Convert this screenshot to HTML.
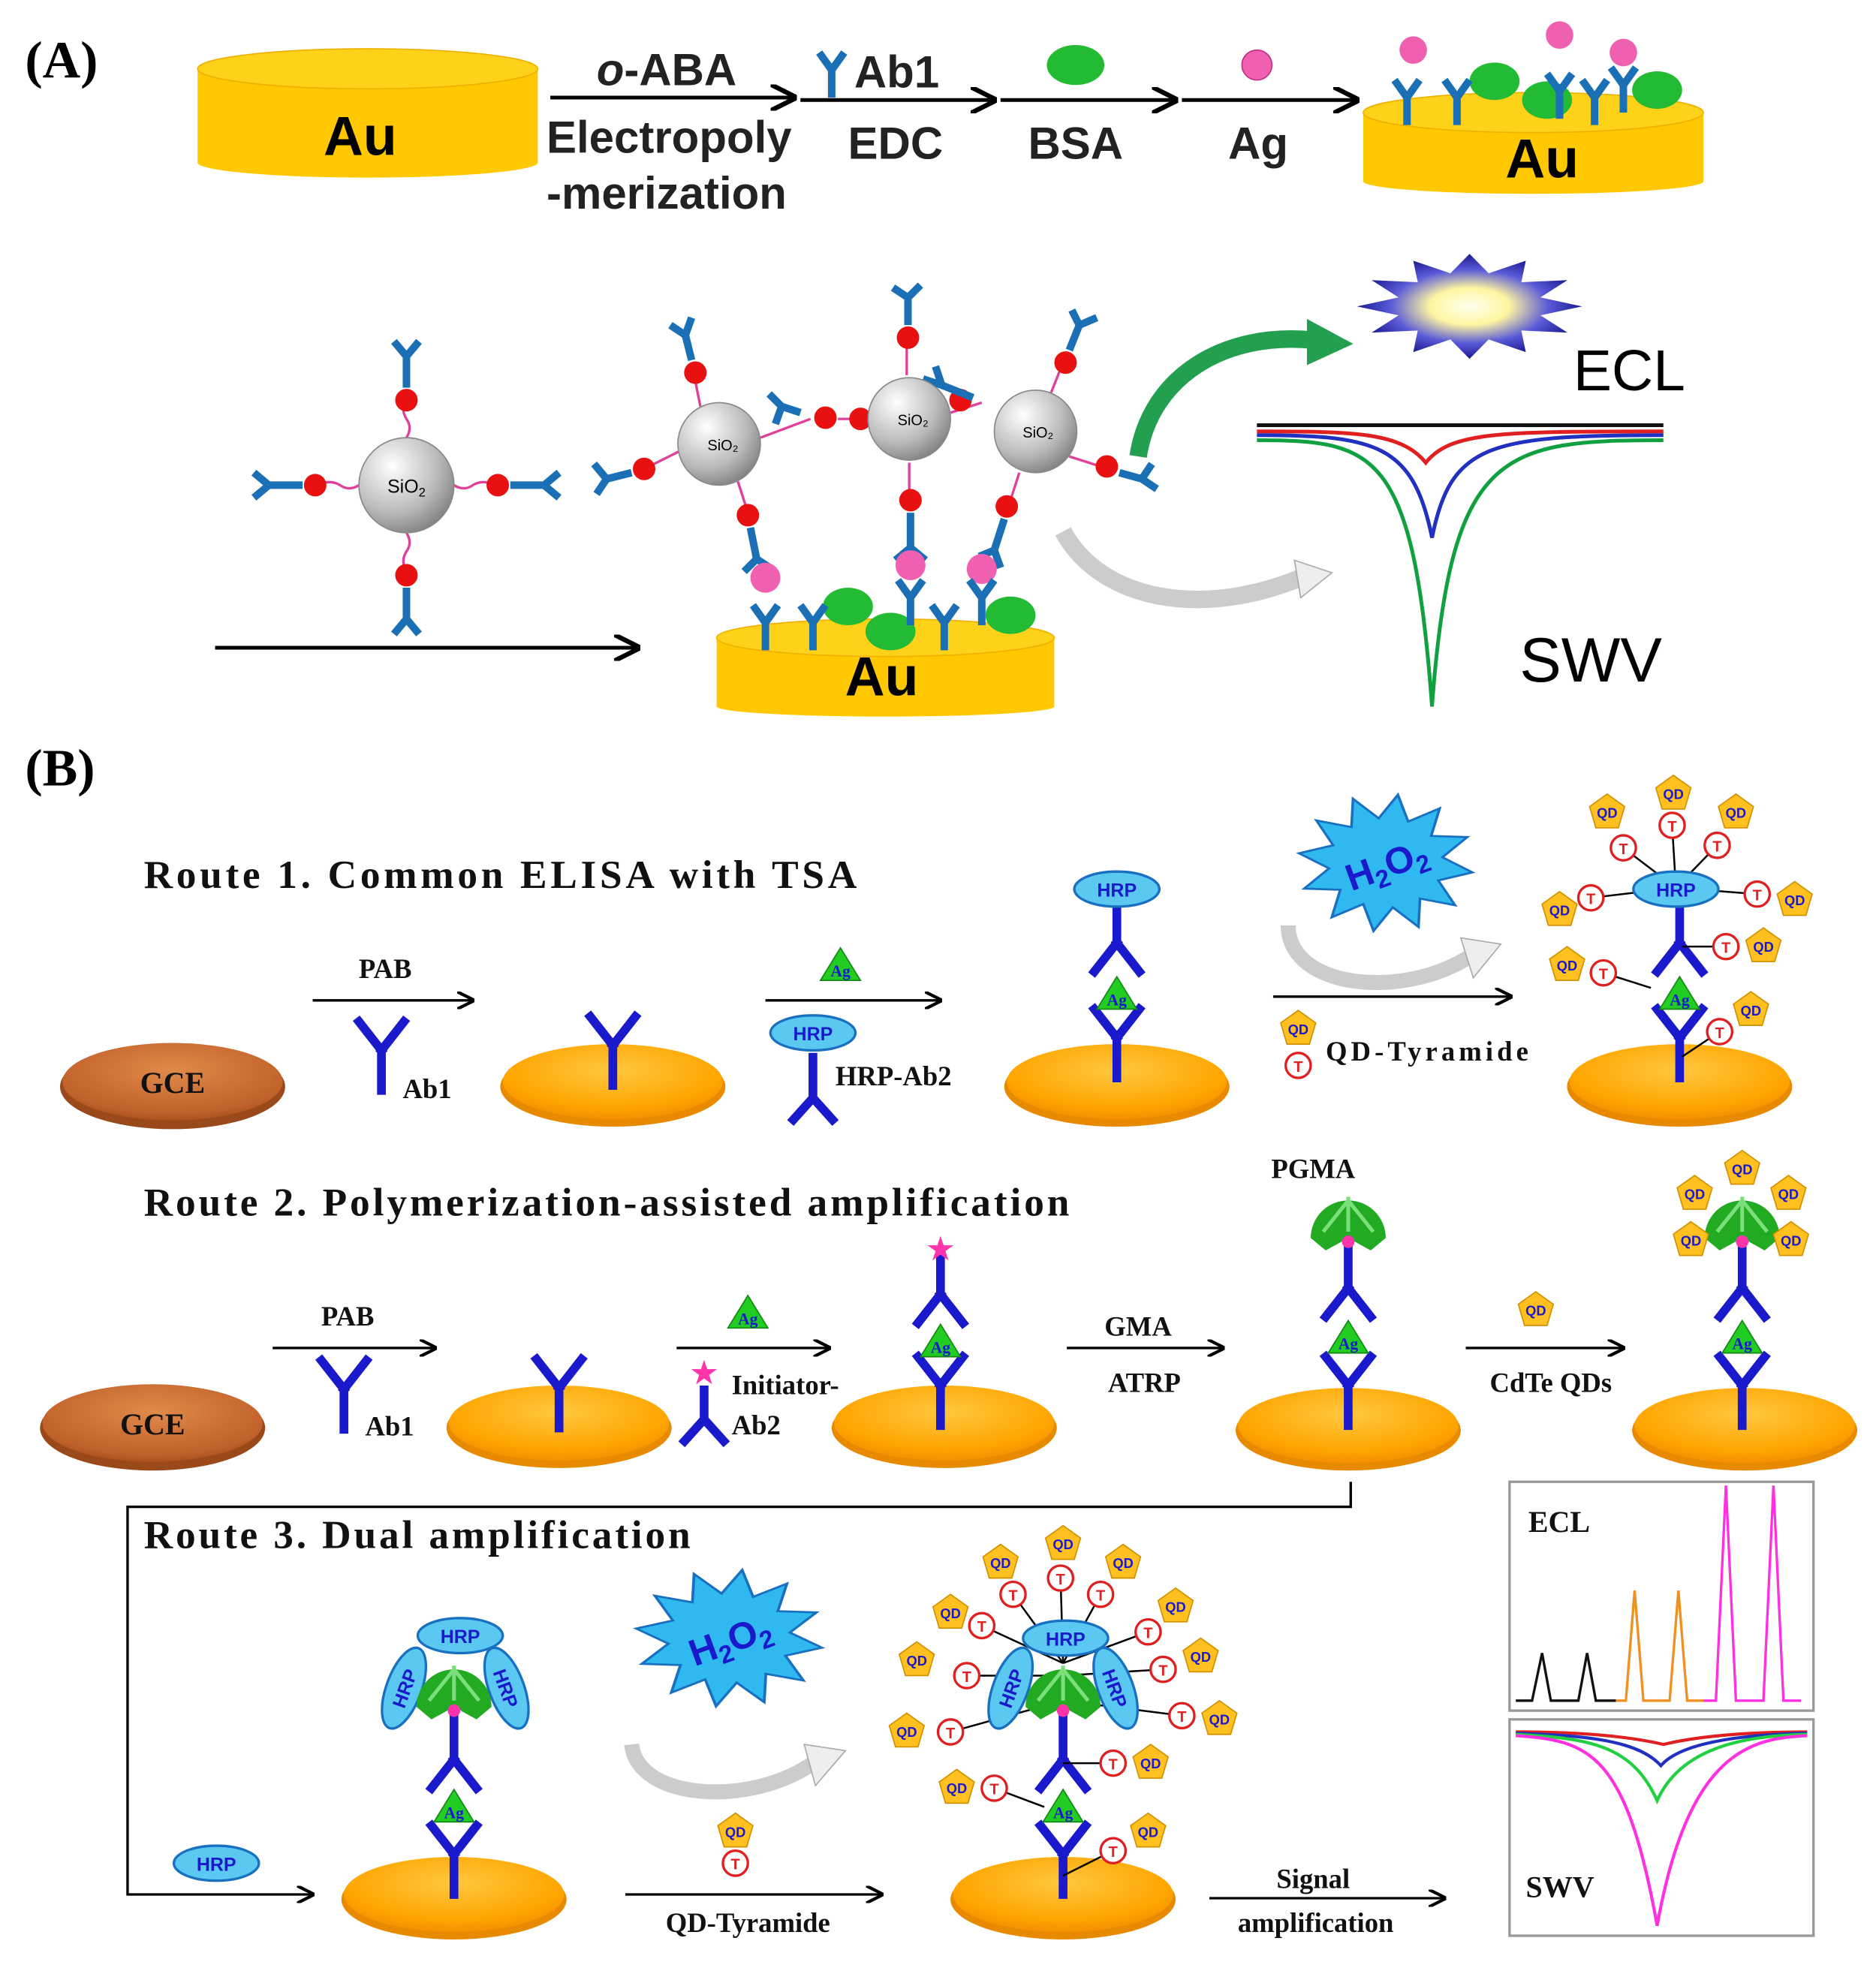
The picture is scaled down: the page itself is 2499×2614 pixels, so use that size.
<!DOCTYPE html>
<html><head><meta charset="utf-8"><style>html,body{margin:0;padding:0;background:#fff}svg{display:block}</style></head><body>
<svg width="2499" height="2614" viewBox="0 0 1500 1569" xmlns="http://www.w3.org/2000/svg">
<defs>
<radialGradient id="sio" cx="0.35" cy="0.3" r="0.8"><stop offset="0" stop-color="#fff"/><stop offset="0.6" stop-color="#bbb"/><stop offset="1" stop-color="#777"/></radialGradient>
<radialGradient id="gold" cx="0.5" cy="0.35" r="0.7"><stop offset="0" stop-color="#FFC840"/><stop offset="0.7" stop-color="#FFA500"/><stop offset="1" stop-color="#F08A00"/></radialGradient>
<radialGradient id="gce" cx="0.5" cy="0.35" r="0.7"><stop offset="0" stop-color="#E08A4A"/><stop offset="0.8" stop-color="#C0602A"/><stop offset="1" stop-color="#A04A1A"/></radialGradient>
<radialGradient id="burst" cx="0.5" cy="0.5" r="0.5"><stop offset="0" stop-color="#fffff0"/><stop offset="0.35" stop-color="#fff6a0"/><stop offset="0.7" stop-color="#5a5ad8"/><stop offset="1" stop-color="#1a1a90"/></radialGradient>
<marker id="ah" viewBox="0 0 10 10" refX="9" refY="5" markerWidth="7" markerHeight="7" orient="auto"><path d="M0,0 L10,5 L0,10" fill="none" stroke="#000" stroke-width="1.8"/></marker>
<polygon id="star" points="100,0 63,17 87,50 46,46 50,87 17,63 0,100 -17,63 -50,87 -46,46 -87,50 -63,17 -100,0 -63,-17 -87,-50 -46,-46 -50,-87 -17,-63 0,-100 17,-63 50,-87 46,-46 87,-50 63,-17"/>
<g id="yb"><path d="M0,0 V-32 M0,-32 L-18,-55 M0,-32 L18,-55" stroke="#1a1acc" stroke-width="7" fill="none" stroke-linecap="square"/></g>
<g id="yi"><path d="M0,0 V32 M0,32 L-18,55 M0,32 L18,55" stroke="#1a1acc" stroke-width="7" fill="none" stroke-linecap="square"/></g>
<g id="disk"><ellipse cx="0" cy="4" rx="90" ry="32" fill="#E88A00"/><ellipse cx="0" cy="0" rx="88" ry="30" fill="url(#gold)"/></g>
<g id="gcedisk"><ellipse cx="0" cy="4" rx="90" ry="34" fill="#9a4a1a"/><ellipse cx="0" cy="0" rx="88" ry="31" fill="url(#gce)"/></g>
<g id="ag"><polygon points="0,-14 16,12 -16,12" fill="#22cc22" stroke="#118811"/><text x="0" y="9" font-size="13" font-family="Liberation Serif" font-weight="bold" fill="#1a1acc" text-anchor="middle">Ag</text></g>
<g id="hrp"><ellipse cx="0" cy="0" rx="34" ry="14" fill="#5ac8f0" stroke="#1a70c0" stroke-width="2"/><text x="0" y="6" font-size="15" font-family="Liberation Sans" font-weight="bold" fill="#1a1acc" text-anchor="middle">HRP</text></g>
<g id="qd"><polygon points="0,-15 14,-5 9,12 -9,12 -14,-5" fill="#FFC020" stroke="#d09000"/><text x="0" y="4" font-size="11" font-family="Liberation Sans" font-weight="bold" fill="#1a1acc" text-anchor="middle">QD</text></g>
<g id="tc"><circle r="10" fill="#fff" stroke="#e02020" stroke-width="2"/><text x="0" y="5" font-size="12" font-family="Liberation Sans" fill="#e02020" text-anchor="middle">T</text></g>
<g id="pg"><path d="M-30,5 A30,30 0 1 1 30,5 L18,15 L0,5 L-18,15 Z" fill="#22aa22"/><path d="M-20,0 L0,-25 M0,0 L0,-28 M20,0 L0,-25" stroke="#7be07b" stroke-width="3"/><circle cx="0" cy="8" r="5" fill="#ff33aa"/></g>
<g id="ya"><path d="M0,0 V-22 M0,-22 L-10,-36 M0,-22 L10,-36" stroke="#1a6fb5" stroke-width="6" fill="none"/></g>
</defs>

<text x="20" y="62" font-family="Liberation Serif" font-weight="bold" font-size="42">(A)</text>
<g>
<rect x="158" y="55" width="272" height="75" fill="#FFC800"/>
<ellipse cx="294" cy="130" rx="136" ry="12" fill="#FFC800"/>
<ellipse cx="294" cy="55" rx="136" ry="16" fill="#FFD21A" stroke="#F0B000"/>
<text x="288" y="124" font-family="Liberation Sans" font-weight="bold" font-size="44" text-anchor="middle">Au</text>
</g>
<g font-family="Liberation Sans" font-weight="bold" font-size="36" fill="#222">
<line x1="440" y1="78" x2="635" y2="78" stroke="#000" stroke-width="3" marker-end="url(#ah)"/>
<text x="533" y="68" text-anchor="middle"><tspan font-style="italic">o</tspan>-ABA</text>
<text x="535" y="122" text-anchor="middle">Electropoly</text>
<text x="533" y="167" text-anchor="middle">-merization</text>
<use href="#ya" x="665" y="78"/>
<text x="683" y="70">Ab1</text>
<line x1="640" y1="80" x2="795" y2="80" stroke="#000" stroke-width="3" marker-end="url(#ah)"/>
<text x="716" y="127" text-anchor="middle">EDC</text>
<ellipse cx="860" cy="52" rx="23" ry="16" fill="#22bb33"/>
<line x1="800" y1="80" x2="940" y2="80" stroke="#000" stroke-width="3" marker-end="url(#ah)"/>
<text x="860" y="127" text-anchor="middle">BSA</text>
<circle cx="1005" cy="52" r="12" fill="#f060b0" stroke="#c03080"/>
<line x1="945" y1="80" x2="1085" y2="80" stroke="#000" stroke-width="3" marker-end="url(#ah)"/>
<text x="1006" y="127" text-anchor="middle">Ag</text>
</g>
<g>
<rect x="1090" y="90" width="272" height="55" fill="#FFC800"/>
<ellipse cx="1226" cy="145" rx="136" ry="10" fill="#FFC800"/>
<ellipse cx="1226" cy="90" rx="136" ry="16" fill="#FFD21A" stroke="#F0B000"/>
<ellipse cx="1195" cy="65" rx="20" ry="15" fill="#22bb33"/><ellipse cx="1237" cy="80" rx="20" ry="15" fill="#22bb33"/><ellipse cx="1325" cy="72" rx="20" ry="15" fill="#22bb33"/>
<use href="#ya" x="1125" y="100"/><use href="#ya" x="1165" y="100"/><use href="#ya" x="1247" y="95"/><use href="#ya" x="1275" y="100"/><use href="#ya" x="1298" y="90"/>
<circle cx="1130" cy="40" r="11" fill="#f060b0"/><circle cx="1247" cy="28" r="11" fill="#f060b0"/><circle cx="1298" cy="42" r="11" fill="#f060b0"/>
<text x="1233" y="142" font-family="Liberation Sans" font-weight="bold" font-size="44" text-anchor="middle">Au</text>
</g>

<g stroke="#e0409a" stroke-width="2" fill="none">
<path d="M325,350 q5,-8 0,-15 q-5,-8 0,-15"/><path d="M325,426 q5,8 0,15 q-5,8 0,15"/>
<path d="M287,388 q-8,5 -15,0 q-8,-5 -18,0"/><path d="M363,388 q8,5 15,0 q8,-5 18,0"/>
</g>
<g fill="#e81010"><circle cx="325" cy="320" r="9"/><circle cx="325" cy="460" r="9"/><circle cx="252" cy="388" r="9"/><circle cx="398" cy="388" r="9"/></g>
<g stroke="#1a6fb5" stroke-width="6" fill="none">
<path d="M325,310 V285 M325,285 l-10,-12 M325,285 l10,-12"/>
<path d="M325,470 V495 M325,495 l-10,12 M325,495 l10,12"/>
<path d="M242,388 H215 M215,388 l-12,-10 M215,388 l-12,10"/>
<path d="M408,388 H435 M435,388 l12,-10 M435,388 l12,10"/>
</g>
<circle cx="325" cy="388" r="38" fill="url(#sio)" stroke="#888"/>
<text x="325" y="394" font-family="Liberation Sans" font-size="15" text-anchor="middle">SiO<tspan font-size="10" dy="3">2</tspan></text>
<line x1="172" y1="518" x2="510" y2="518" stroke="#000" stroke-width="3" marker-end="url(#ah)"/>

<g stroke="#e0409a" stroke-width="2" fill="none">
<path d="M560,325 l-5,-25"/><path d="M545,360 l-30,15"/><path d="M590,385 l8,25"/><path d="M608,350 l40,-15"/>
<path d="M725,300 V270"/><path d="M727,370 V398"/><path d="M700,335 l-30,0"/><path d="M760,330 l25,-8"/>
<path d="M840,315 l10,-25"/><path d="M855,365 l25,8"/><path d="M815,378 l-8,25"/>
</g>
<g fill="#e81010">
<circle cx="556" cy="298" r="9"/><circle cx="515" cy="375" r="9"/><circle cx="598" cy="412" r="9"/><circle cx="660" cy="334" r="9"/>
<circle cx="726" cy="270" r="9"/><circle cx="728" cy="400" r="9"/><circle cx="688" cy="335" r="9"/><circle cx="768" cy="320" r="9"/>
<circle cx="852" cy="290" r="9"/><circle cx="885" cy="373" r="9"/><circle cx="805" cy="405" r="9"/>
</g>
<g stroke="#1a6fb5" stroke-width="6" fill="none">
<path d="M553,288 l-5,-20 m0,0 l-12,-8 m12,8 l5,-14"/>
<path d="M505,378 l-20,5 m0,0 l-10,-12 m10,12 l-8,12"/>
<path d="M640,330 l-15,-5 m0,0 l-10,-10 m10,10 l-5,14"/>
<path d="M726,260 V238 m0,0 l-12,-8 m12,8 l10,-10"/>
<path d="M778,318 l-25,-10 m0,0 l-15,-5 m15,5 l-5,-15"/>
<path d="M855,280 l8,-20 m0,0 l-6,-12 m6,12 l14,-6"/>
<path d="M895,378 l18,5 m0,0 l8,-12 m-8,12 l12,8"/>
<path d="M600,422 l5,25 m0,0 l-10,10 m10,-10 l12,8"/>
<path d="M728,410 V438 m0,0 l-12,10 m12,-10 l12,10"/>
<path d="M803,415 l-8,25 m0,0 l-12,5 m12,-5 l5,14"/>
</g>
<g fill="#f060b0"><circle cx="612" cy="462" r="12"/><circle cx="728" cy="452" r="12"/><circle cx="785" cy="455" r="12"/></g>
<circle cx="575" cy="355" r="33" fill="url(#sio)" stroke="#888"/><circle cx="727" cy="335" r="33" fill="url(#sio)" stroke="#888"/><circle cx="828" cy="345" r="33" fill="url(#sio)" stroke="#888"/>
<g font-family="Liberation Sans" font-size="12" text-anchor="middle"><text x="578" y="360">SiO₂</text><text x="730" y="340">SiO₂</text><text x="830" y="350">SiO₂</text></g>
<g>
<rect x="573" y="510" width="270" height="55" fill="#FFC800"/>
<ellipse cx="708" cy="565" rx="135" ry="8" fill="#FFC800"/>
<ellipse cx="708" cy="510" rx="135" ry="15" fill="#FFD21A" stroke="#F0B000"/>
<ellipse cx="678" cy="485" rx="20" ry="15" fill="#22bb33"/><ellipse cx="712" cy="505" rx="20" ry="15" fill="#22bb33"/><ellipse cx="808" cy="492" rx="20" ry="15" fill="#22bb33"/>
<use href="#ya" x="612" y="520"/><use href="#ya" x="650" y="520"/><use href="#ya" x="728" y="500"/><use href="#ya" x="755" y="520"/><use href="#ya" x="785" y="500"/>
<text x="705" y="556" font-family="Liberation Sans" font-weight="bold" font-size="44" text-anchor="middle">Au</text>
</g>
<path d="M910,365 C920,300 980,265 1050,272" stroke="#22a050" stroke-width="14" fill="none"/>
<polygon points="1045,255 1082,275 1045,292" fill="#22a050"/>
<path d="M850,425 C880,480 960,495 1040,462" stroke="#ccc" stroke-width="14" fill="none"/>
<polygon points="1035,448 1065,458 1040,478" fill="#eee" stroke="#aaa"/>
<use href="#star" transform="translate(1175,245) scale(0.9,0.42)" fill="url(#burst)"/>
<text x="1258" y="312" font-family="Liberation Sans" font-size="46">ECL</text>
<g fill="none" stroke-width="3">
<path d="M1005,340 H1330" stroke="#111"/>
<path d="M1005,345 C1080,345 1120,345 1140,370 C1160,345 1200,345 1330,345" stroke="#e02020"/>
<path d="M1005,348 C1100,348 1130,355 1145,430 C1160,355 1190,348 1330,348" stroke="#2030c0"/>
<path d="M1005,352 C1100,352 1130,360 1145,565 C1160,360 1200,352 1330,352" stroke="#10a040"/>
</g>
<text x="1215" y="545" font-family="Liberation Sans" font-size="50">SWV</text>

<text x="20" y="628" font-family="Liberation Serif" font-weight="bold" font-size="42">(B)</text>
<g font-family="Liberation Serif" font-weight="bold" fill="#111">
<text x="115" y="710" font-size="32" textLength="570" lengthAdjust="spacing">Route 1. Common ELISA with TSA</text>
<text x="115" y="972" font-size="32" textLength="740" lengthAdjust="spacing">Route 2. Polymerization-assisted amplification</text>
<text x="115" y="1238" font-size="32" textLength="437" lengthAdjust="spacing">Route 3. Dual amplification</text>
</g>
<g font-family="Liberation Serif" font-weight="bold" font-size="22" fill="#111">
<use href="#gcedisk" x="138" y="865"/><text x="138" y="874" text-anchor="middle" font-size="24">GCE</text>
<line x1="250" y1="800" x2="378" y2="800" stroke="#000" stroke-width="2" marker-end="url(#ah)"/>
<text x="308" y="782" text-anchor="middle">PAB</text>
<use href="#yb" x="305" y="872"/><text x="322" y="878">Ab1</text>
<use href="#disk" x="490" y="865"/><use href="#yb" x="490" y="868"/>
<line x1="612" y1="800" x2="752" y2="800" stroke="#000" stroke-width="2" marker-end="url(#ah)"/>
<use href="#ag" x="672" y="772"/><use href="#hrp" x="650" y="826"/>
<path d="M650,842 V878 M650,878 l-18,20 M650,878 l18,20" stroke="#1a1acc" stroke-width="7" fill="none"/>
<text x="668" y="868">HRP-Ab2</text>
<use href="#disk" x="893" y="865"/><use href="#yb" x="893" y="862"/><use href="#ag" x="893" y="795"/><use href="#yi" x="893" y="722"/><use href="#hrp" x="893" y="711"/>
<use href="#star" transform="translate(1108,690) scale(0.7,0.55) rotate(8)" fill="#30b8f0" stroke="#1a70c0" stroke-width="3"/>
<text x="1108" y="702" text-anchor="middle" font-family="Liberation Sans" font-size="30" fill="#1a1acc" transform="rotate(-20 1108 690)">H<tspan font-size="20" dy="6">2</tspan><tspan dy="-6">O</tspan><tspan font-size="20" dy="6">2</tspan></text>
<path d="M1030,740 C1030,790 1120,800 1175,765" stroke="#ccc" stroke-width="12" fill="none"/>
<polygon points="1168,750 1200,755 1178,782" fill="#eee" stroke="#aaa"/>
<line x1="1018" y1="797" x2="1208" y2="797" stroke="#000" stroke-width="2" marker-end="url(#ah)"/>
<use href="#qd" x="1038" y="823"/><use href="#tc" x="1038" y="852"/><text x="1060" y="848" textLength="162" lengthAdjust="spacing">QD-Tyramide</text>
<use href="#disk" x="1343" y="865"/><use href="#yb" x="1343" y="862"/><use href="#ag" x="1343" y="795"/><use href="#yi" x="1343" y="722"/>
<g stroke="#000" stroke-width="1.5"><line x1="1340" y1="710" x2="1298" y2="678"/><line x1="1340" y1="710" x2="1337" y2="660"/><line x1="1340" y1="710" x2="1373" y2="676"/><line x1="1340" y1="710" x2="1272" y2="718"/><line x1="1340" y1="710" x2="1405" y2="715"/><line x1="1320" y1="790" x2="1282" y2="778"/><line x1="1345" y1="757" x2="1380" y2="757"/><line x1="1345" y1="845" x2="1375" y2="825"/></g>
<use href="#hrp" x="1340" y="711"/>
<use href="#tc" x="1298" y="678"/><use href="#tc" x="1337" y="660"/><use href="#tc" x="1373" y="676"/><use href="#tc" x="1272" y="718"/><use href="#tc" x="1405" y="715"/><use href="#tc" x="1282" y="778"/><use href="#tc" x="1380" y="757"/><use href="#tc" x="1375" y="825"/>
<use href="#qd" x="1285" y="650"/><use href="#qd" x="1338" y="635"/><use href="#qd" x="1388" y="650"/><use href="#qd" x="1247" y="728"/><use href="#qd" x="1435" y="720"/><use href="#qd" x="1253" y="772"/><use href="#qd" x="1410" y="757"/><use href="#qd" x="1400" y="808"/>

<use href="#gcedisk" x="122" y="1138"/><text x="122" y="1147" text-anchor="middle" font-size="24">GCE</text>
<line x1="218" y1="1078" x2="348" y2="1078" stroke="#000" stroke-width="2" marker-end="url(#ah)"/>
<text x="278" y="1060" text-anchor="middle">PAB</text>
<use href="#yb" x="275" y="1143"/><text x="292" y="1148">Ab1</text>
<use href="#disk" x="447" y="1138"/><use href="#yb" x="447" y="1142"/>
<line x1="541" y1="1078" x2="663" y2="1078" stroke="#000" stroke-width="2" marker-end="url(#ah)"/>
<use href="#ag" x="598" y="1050"/>
<text x="563" y="1106" text-anchor="middle" fill="#ff33aa" font-size="24">★</text>
<path d="M563,1108 V1135 M563,1135 l-18,20 M563,1135 l18,20" stroke="#1a1acc" stroke-width="7" fill="none"/>
<text x="585" y="1115">Initiator-</text><text x="585" y="1147">Ab2</text>
<use href="#disk" x="755" y="1138"/><use href="#yb" x="752" y="1140"/><use href="#ag" x="752" y="1073"/><use href="#yi" x="752" y="1003"/>
<text x="752" y="1007" text-anchor="middle" fill="#ff33aa" font-size="24">★</text>
<line x1="853" y1="1078" x2="978" y2="1078" stroke="#000" stroke-width="2" marker-end="url(#ah)"/>
<text x="910" y="1068" text-anchor="middle">GMA</text><text x="915" y="1113" text-anchor="middle">ATRP</text>
<use href="#disk" x="1078" y="1140"/><use href="#yb" x="1078" y="1140"/><use href="#ag" x="1078" y="1070"/><use href="#yi" x="1078" y="998"/>
<use href="#pg" x="1078" y="985"/><text x="1050" y="942" text-anchor="middle">PGMA</text>
<line x1="1172" y1="1078" x2="1298" y2="1078" stroke="#000" stroke-width="2" marker-end="url(#ah)"/>
<use href="#qd" x="1228" y="1048"/><text x="1240" y="1113" text-anchor="middle">CdTe QDs</text>
<use href="#disk" x="1395" y="1140"/><use href="#yb" x="1393" y="1140"/><use href="#ag" x="1393" y="1070"/><use href="#yi" x="1393" y="998"/>
<use href="#pg" x="1393" y="985"/>
<use href="#qd" x="1355" y="955"/><use href="#qd" x="1393" y="935"/><use href="#qd" x="1430" y="955"/><use href="#qd" x="1352" y="992"/><use href="#qd" x="1432" y="992"/>

<path d="M1080,1185 V1205 H102 V1515 H250" stroke="#000" stroke-width="2" fill="none" marker-end="url(#ah)"/>
<use href="#hrp" x="173" y="1490"/>
<use href="#disk" x="363" y="1515"/><use href="#yb" x="363" y="1515"/><use href="#ag" x="363" y="1445"/><use href="#yi" x="363" y="1375"/>
<g transform="translate(323,1350) rotate(-70)"><use href="#hrp"/></g><g transform="translate(405,1350) rotate(70)"><use href="#hrp"/></g>
<use href="#pg" x="363" y="1360"/><use href="#hrp" x="368" y="1308"/>
<use href="#star" transform="translate(583,1310) scale(0.75,0.55) rotate(8)" fill="#30b8f0" stroke="#1a70c0" stroke-width="3"/>
<text x="583" y="1322" text-anchor="middle" font-family="Liberation Sans" font-size="30" fill="#1a1acc" transform="rotate(-20 583 1310)">H<tspan font-size="20" dy="6">2</tspan><tspan dy="-6">O</tspan><tspan font-size="20" dy="6">2</tspan></text>
<path d="M505,1395 C510,1440 600,1445 650,1410" stroke="#ccc" stroke-width="12" fill="none"/>
<polygon points="643,1395 676,1400 652,1428" fill="#eee" stroke="#aaa"/>
<use href="#qd" x="588" y="1465"/><use href="#tc" x="588" y="1490"/>
<line x1="500" y1="1515" x2="705" y2="1515" stroke="#000" stroke-width="2" marker-end="url(#ah)"/>
<text x="598" y="1545" text-anchor="middle">QD-Tyramide</text>
<use href="#disk" x="850" y="1515"/><use href="#yb" x="850" y="1515"/><use href="#ag" x="850" y="1445"/><use href="#yi" x="850" y="1375"/>
<g stroke="#000" stroke-width="1.5"><line x1="850" y1="1330" x2="810" y2="1275"/><line x1="850" y1="1330" x2="848" y2="1262"/><line x1="850" y1="1330" x2="880" y2="1275"/><line x1="850" y1="1330" x2="785" y2="1300"/><line x1="850" y1="1330" x2="918" y2="1305"/><line x1="850" y1="1340" x2="773" y2="1340"/><line x1="850" y1="1340" x2="930" y2="1335"/><line x1="850" y1="1360" x2="760" y2="1385"/><line x1="850" y1="1360" x2="945" y2="1372"/><line x1="835" y1="1445" x2="795" y2="1430"/><line x1="850" y1="1410" x2="890" y2="1410"/><line x1="850" y1="1500" x2="890" y2="1480"/></g>
<g transform="translate(808,1350) rotate(-70)"><use href="#hrp"/></g><g transform="translate(892,1350) rotate(70)"><use href="#hrp"/></g>
<use href="#pg" x="850" y="1360"/><use href="#hrp" x="852" y="1310"/>
<use href="#tc" x="810" y="1275"/><use href="#tc" x="848" y="1262"/><use href="#tc" x="880" y="1275"/><use href="#tc" x="785" y="1300"/><use href="#tc" x="918" y="1305"/><use href="#tc" x="773" y="1340"/><use href="#tc" x="930" y="1335"/><use href="#tc" x="760" y="1385"/><use href="#tc" x="945" y="1372"/><use href="#tc" x="795" y="1430"/><use href="#tc" x="890" y="1410"/><use href="#tc" x="890" y="1480"/>
<use href="#qd" x="800" y="1250"/><use href="#qd" x="850" y="1235"/><use href="#qd" x="898" y="1250"/><use href="#qd" x="760" y="1290"/><use href="#qd" x="940" y="1285"/><use href="#qd" x="733" y="1328"/><use href="#qd" x="960" y="1325"/><use href="#qd" x="725" y="1385"/><use href="#qd" x="975" y="1375"/><use href="#qd" x="765" y="1430"/><use href="#qd" x="920" y="1410"/><use href="#qd" x="918" y="1465"/>
<line x1="967" y1="1518" x2="1155" y2="1518" stroke="#000" stroke-width="2" marker-end="url(#ah)"/>
<text x="1050" y="1510" text-anchor="middle">Signal</text><text x="1052" y="1545" text-anchor="middle">amplification</text>
<rect x="1207" y="1185" width="243" height="183" fill="#fff" stroke="#999" stroke-width="2"/>
<text x="1222" y="1225" font-size="24">ECL</text>
<path d="M1212,1360 H1225 L1233,1322 L1240,1360 H1262 L1269,1322 L1276,1360 H1292" stroke="#111" stroke-width="2" fill="none"/>
<path d="M1292,1360 H1300 L1307,1272 L1314,1360 H1335 L1342,1272 L1349,1360 H1362" stroke="#f09020" stroke-width="2" fill="none"/>
<path d="M1362,1360 H1372 L1380,1188 L1388,1360 H1410 L1418,1188 L1426,1360 H1440" stroke="#ff30e0" stroke-width="2" fill="none"/>
<rect x="1207" y="1375" width="243" height="173" fill="#fff" stroke="#999" stroke-width="2"/>
<text x="1220" y="1517" font-size="24">SWV</text>
<g fill="none" stroke-width="2.5">
<path d="M1212,1385 C1260,1385 1300,1388 1330,1395 C1360,1388 1400,1385 1445,1385" stroke="#e02020"/>
<path d="M1212,1386 C1270,1388 1310,1392 1328,1412 C1345,1392 1400,1387 1445,1386" stroke="#2030c0"/>
<path d="M1212,1387 C1270,1390 1305,1395 1325,1440 C1345,1395 1400,1388 1445,1387" stroke="#20d040"/>
<path d="M1212,1388 C1270,1392 1300,1400 1325,1540 C1350,1400 1400,1390 1445,1388" stroke="#ff30e0"/>
</g>
</g>
</svg>
</body></html>
